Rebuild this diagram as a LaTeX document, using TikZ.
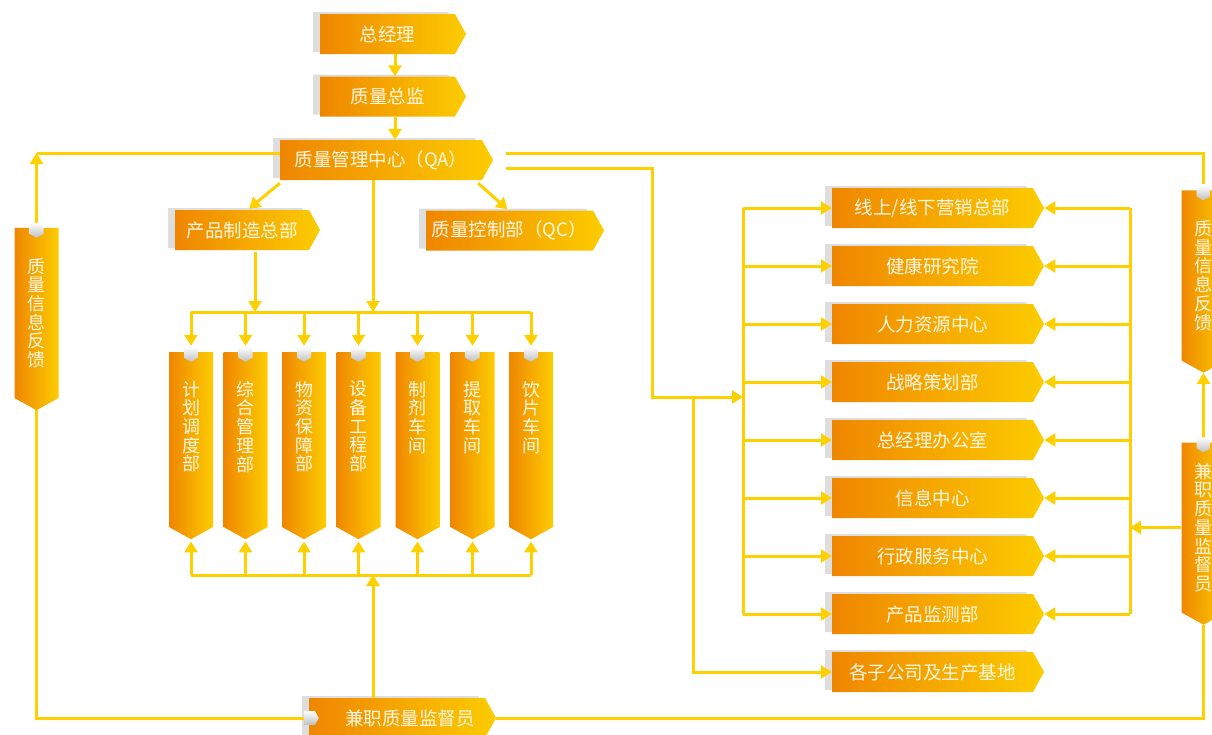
\documentclass[tikz,border=0pt]{standalone}
\usepackage{fontspec}
\setmainfont{Noto Sans CJK SC}
\usetikzlibrary{arrows.meta,positioning,calc,shapes.symbols,shadows}
\definecolor{lineyel}{HTML}{FFD000}
\definecolor{boxorg}{HTML}{EF8600}
\definecolor{boxyel}{HTML}{FCCC00}
\definecolor{txtcol}{HTML}{FFF7E4}
\tikzset{
  boxbase/.style={signal, signal from=nowhere, signal pointer angle=122,
    left color=boxorg, right color=boxyel, text=txtcol, inner sep=0pt},
  hbox/.style={boxbase, signal to=east, minimum height=40pt,
    font=\fontsize{18.5}{20}\selectfont,
    drop shadow={shadow xshift=-7pt, shadow yshift=2pt, fill=black!13, opacity=1}},
  vbox/.style={boxbase, signal to=south, minimum width=44pt, minimum height=175pt,
    align=center, font=\fontsize{18}{18.7}\selectfont},
  vtext/.style={anchor=north, yshift=-29pt, align=center, text=txtcol,
    inner sep=0pt, font=\fontsize{18}{18.7}\selectfont},
  colbox/.style={vbox, label={[vtext]north:#1}},
  link/.style={draw=lineyel, line width=3pt},
  flow/.style={link, -{Triangle[width=13pt,length=11pt]}},
  tab/.style={top color=white, bottom color=black!25, draw=none},
}
% grey tab on top of a vertical box
\newcommand{\toptab}[1]{%
  \path[tab] ($(#1.north)+(-7,-5)$) -- ++(14,0) -- ++(0,11) -- ++(-7,4)
    -- ++(-7,-4) -- cycle;}
\begin{document}
\begin{tikzpicture}[x=1pt, y=-1pt]
\useasboundingbox (0,0) rectangle (1212,734);

% top of the chart
\node[hbox, minimum width=146pt] (gm) at (387.5,34) {总经理};
\node[hbox, minimum width=146pt] (qd) at (387.5,96.5) {质量总监};
\node[hbox, minimum width=213pt] (qa) at (381,160) {质量管理中心（QA）};
\node[hbox, minimum width=145pt] (mfg) at (242,230) {产品制造总部};
\node[hbox, minimum width=178pt] (qc) at (509.5,230.5) {质量控制部（QC）};

% workshops
\node[colbox={计\\划\\调\\度\\部}] (c1) at (191,439.5) {};
\node[colbox={综\\合\\管\\理\\部}] (c2) at (245.5,439.5) {};
\node[colbox={物\\资\\保\\障\\部}] (c3) at (304,439.5) {};
\node[colbox={设\\备\\工\\程\\部}] (c4) at (358.5,439.5) {};
\node[colbox={制\\剂\\车\\间}] (c5) at (417.5,439.5) {};
\node[colbox={提\\取\\车\\间}] (c6) at (472.5,439.5) {};
\node[colbox={饮\\片\\车\\间}] (c7) at (531,439.5) {};

% feedback and supervisors
\node[vbox] (fbl) at (36.5,313) {质\\量\\信\\息\\反\\馈};
\node[vbox] (fbr) at (1203.5,275.5) {质\\量\\信\\息\\反\\馈};
\node[vbox] (pqr) at (1203.5,527.5) {兼\\职\\质\\量\\监\\督\\员};
\node[hbox, minimum width=187pt] (pqb) at (397,718) {\hspace{26pt}兼职质量监督员};

% departments on the right
\node[hbox, minimum width=212pt] (d1) at (932.5,208) {线上/线下营销总部};
\node[hbox, minimum width=212pt] (d2) at (932.5,266) {健康研究院};
\node[hbox, minimum width=212pt] (d3) at (932.5,324) {人力资源中心};
\node[hbox, minimum width=212pt] (d4) at (932.5,382) {战略策划部};
\node[hbox, minimum width=212pt] (d5) at (932.5,440) {总经理办公室};
\node[hbox, minimum width=212pt] (d6) at (932.5,498) {信息中心};
\node[hbox, minimum width=212pt] (d7) at (932.5,556) {行政服务中心};
\node[hbox, minimum width=212pt] (d8) at (932.5,614) {产品监测部};
\node[hbox, minimum width=212pt] (sub) at (932.5,672) {各子公司及生产基地};

\coordinate (tbus) at (0,312);
\coordinate (bbus) at (0,575);
\coordinate (lbus) at (743,0);
\coordinate (rbus) at (1130,0);
\coordinate (mfgdn) at ($(mfg.south)+(13,2)$);
\coordinate (qadn) at ($(qa.south)+(-8,0)$);
\coordinate (pqup) at ($(pqb.north)+(-24,0)$);

% chain of command
\draw[flow] (gm.south -| 395,0) -- (qd.north -| 395,0);
\draw[flow] (qd.south -| 395,0) -- (qa.north -| 395,0);
\draw[flow] ($(qa.south west)+(0,3)$) -- ($(mfg.north)+(7,-1)$);
\draw[flow] ($(qa.south east)+(-4,3)$) -- ($(qc.north)+(-2,-1)$);
\draw[flow] (mfgdn) -- (mfgdn |- tbus);
\draw[flow] (qadn) -- (qadn |- tbus);

% buses of the workshops
\draw[link] (c1.north |- tbus) -- (c7.north |- tbus);
\draw[link] (c1.south |- bbus) -- (c7.south |- bbus);
\foreach \c in {c1,c2,c3,c4,c5,c6,c7} {
  \draw[flow] (\c.north |- tbus) -- ($(\c.north)+(0,-6)$);
  \draw[flow] (\c.south |- bbus) -- ($(\c.south)+(0,2)$);
}
\draw[flow] (pqup) -- (pqup |- bbus);

% feedback loops
\draw[link] ($(pqb.west)+(-4,0)$) -| (fbl.south);
\draw[flow] ($(fbl.north)+(0,-4)$) -- (fbl.north |- 0,153);
\draw[link] (fbl.north |- 0,153) -- (qa.west |- 0,153);
\draw[link] (pqb.east) -| (pqr.south);
\draw[flow] ($(pqr.north)+(0,-4)$) -- (fbr.south);
\draw[link] ($(qa.east)+(13,-7)$) -| ($(fbr.north)+(0,-6)$);

% to the departments
\draw[link] ($(qa.east)+(13,8)$) -| (652,397) -- (693,397);
\draw[flow] (652,397) -- (lbus |- 0,397);
\draw[flow] (693,397) |- (sub.west);
\draw[link] (lbus |- d1.west) -- (lbus |- d8.west);
\draw[link] (rbus |- d1.east) -- (rbus |- d8.east);
\foreach \d in {d1,d2,d3,d4,d5,d6,d7,d8} {
  \draw[flow] (lbus |- \d.west) -- (\d.west);
  \draw[flow] (rbus |- \d.east) -- (\d.east);
}
\draw[flow] (pqr.west) -- (rbus |- pqr.west);

% grey tabs
\foreach \c in {c1,c2,c3,c4,c5,c6,c7,fbl,fbr,pqr} {\toptab{\c}}
\path[tab] ($(pqb.west)+(-5,-7)$) -- ++(11,0) -- ++(4,7) -- ++(-4,7)
  -- ++(-11,0) -- cycle;
\end{tikzpicture}
\end{document}
